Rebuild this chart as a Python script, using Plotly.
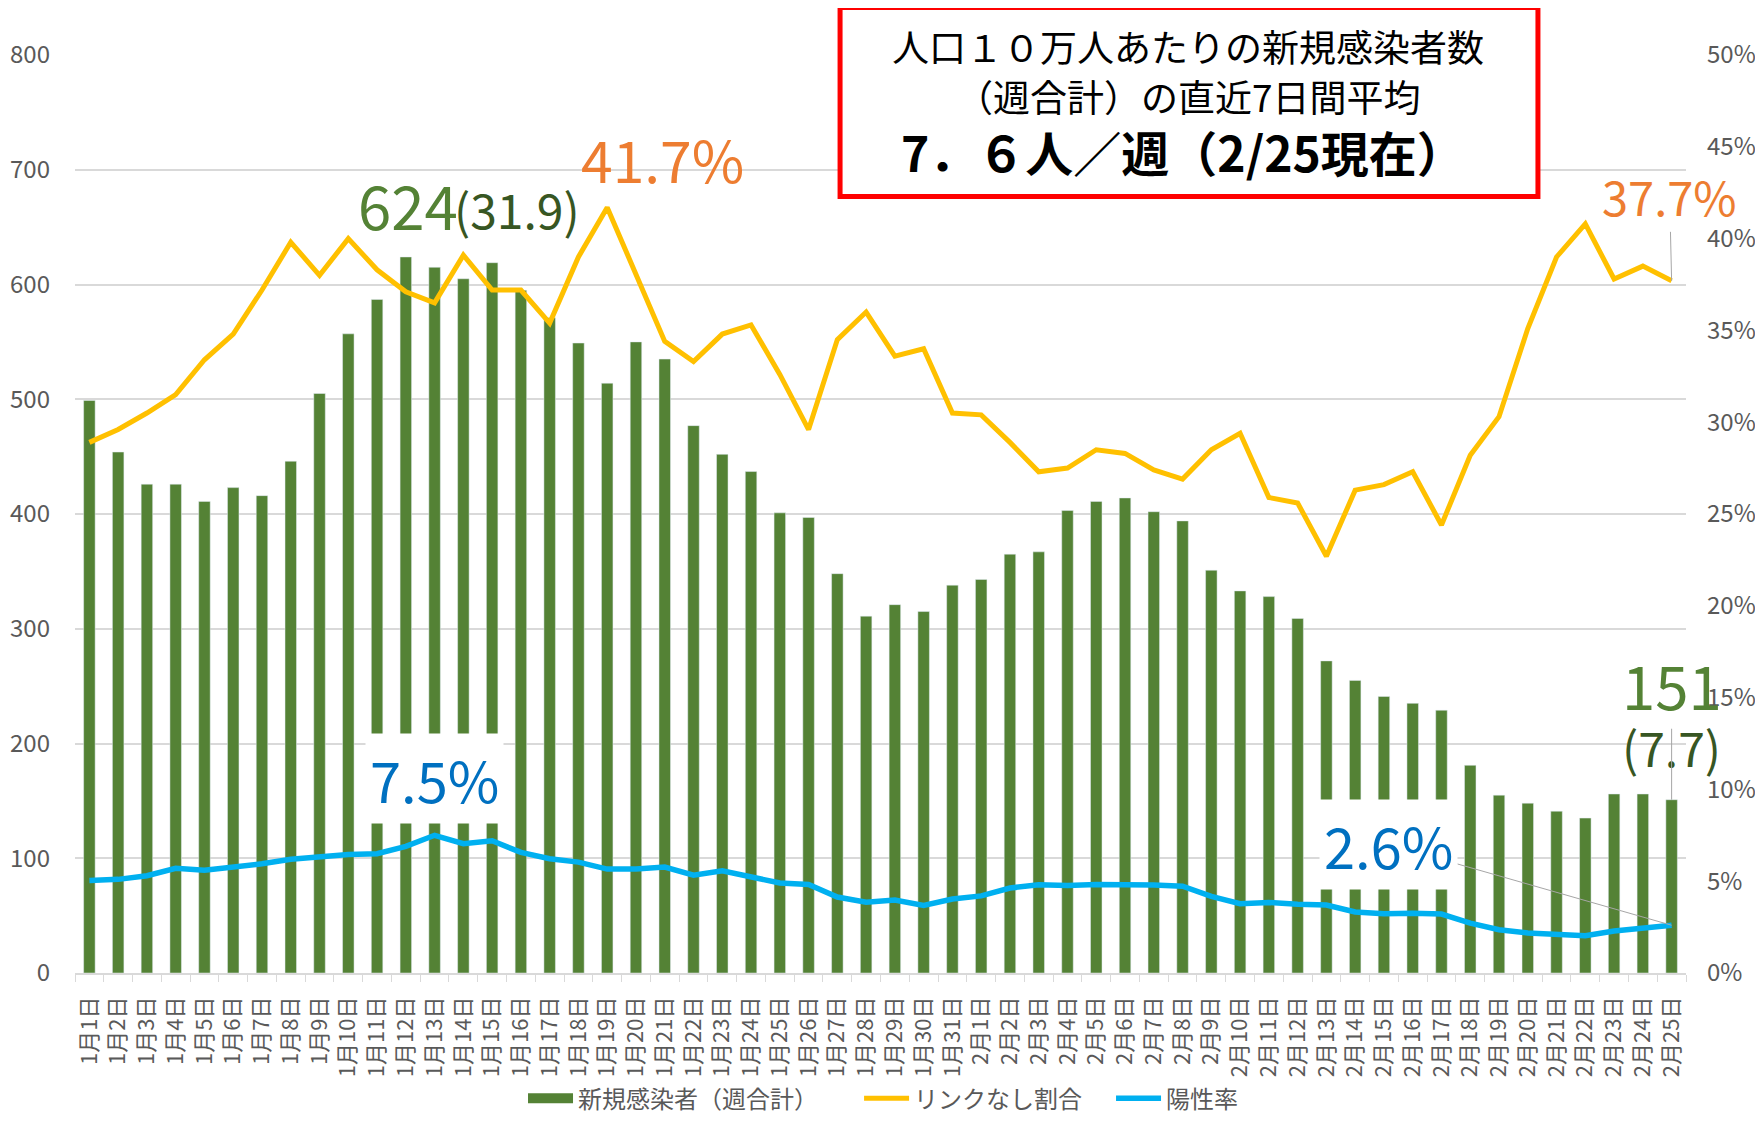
import plotly.graph_objects as go

# ---- data ----
days_jan = [f"1月{d}日" for d in range(1, 32)]
days_feb = [f"2月{d}日" for d in range(1, 26)]
categories = days_jan + days_feb

new_cases_weekly = [499, 454, 426, 426, 411, 423, 416, 446, 505, 557,
                    587, 624, 615, 605, 619, 595, 571, 549, 514, 550,
                    535, 477, 452, 437, 401, 397, 348, 311, 321, 315, 338,
                    343, 365, 367, 403, 411, 414, 402, 394, 351, 333,
                    328, 309, 272, 255, 241, 235, 229, 181, 155, 148,
                    141, 135, 156, 156, 151]

unlinked_pct = [28.9, 29.6, 30.5, 31.5, 33.4, 34.8, 37.2, 39.8, 38.0, 40.0,
                38.3, 37.1, 36.5, 39.1, 37.2, 37.2, 35.4, 39.0, 41.7, 38.0,
                34.4, 33.3, 34.8, 35.3, 32.6, 29.6, 34.5, 36.0, 33.6, 34.0, 30.5,
                30.4, 28.9, 27.3, 27.5, 28.5, 28.3, 27.4, 26.9, 28.5, 29.4,
                25.9, 25.6, 22.7, 26.3, 26.6, 27.3, 24.4, 28.2, 30.3, 35.1,
                39.0, 40.8, 37.8, 38.5, 37.7]

positive_pct = [5.04, 5.1, 5.3, 5.7, 5.6, 5.77, 5.95, 6.2, 6.33, 6.46,
                6.5, 6.9, 7.5, 7.04, 7.2, 6.57, 6.22, 6.04, 5.66, 5.66,
                5.77, 5.33, 5.57, 5.26, 4.9, 4.82, 4.14, 3.85, 3.97, 3.68, 4.03,
                4.2, 4.63, 4.8, 4.77, 4.82, 4.84, 4.79, 4.73, 4.17, 3.77,
                3.84, 3.75, 3.7, 3.32, 3.23, 3.25, 3.21, 2.72, 2.36, 2.18,
                2.1, 2.03, 2.29, 2.48, 2.6]

series_names = ["新規感染者（週合計）", "リンクなし割合", "陽性率"]
box_lines = ["人口１０万人あたりの新規感染者数",
             "（週合計）の直近7日間平均",
             "7．６人／週（2/25現在）"]

NUM_FONT = "Noto Sans CJK JP, sans-serif"
JP_FONT = "Noto Sans CJK JP, Noto Sans, sans-serif"
GRAY = "#595959"
GREEN = "#548235"
DKGREEN = "#375623"
ORANGE = "#ED7D31"
BLUE = "#0070C0"
YELLOW = "#FFC000"
CYAN = "#00B0F0"
LEADER = "#A6A6A6"

fig = go.Figure()
fig.add_trace(go.Bar(x=categories, y=new_cases_weekly, name=series_names[0],
                     marker_color=GREEN, yaxis="y", showlegend=False))
# legend swatch for the bar series (wide rectangle, as in the original legend)
fig.add_trace(go.Scatter(x=[None], y=[None], name=series_names[0], mode="lines",
                         line=dict(color=GREEN, width=12), legend="legend", hoverinfo="skip"))
fig.add_trace(go.Scatter(x=categories, y=unlinked_pct, name=series_names[1],
                         mode="lines", line=dict(color=YELLOW, width=5), yaxis="y2",
                         legend="legend2"))
fig.add_trace(go.Scatter(x=categories, y=positive_pct, name=series_names[2],
                         mode="lines", line=dict(color=CYAN, width=5.5), yaxis="y2",
                         legend="legend3"))

ann = []
# peak of new cases
ann.append(dict(x=categories[11], y=new_cases_weekly[11], xref="x", yref="y",
                text="624", showarrow=False, xanchor="left", yanchor="bottom",
                xshift=-50, yshift=8, font=dict(family=NUM_FONT, size=60, color=GREEN)))
ann.append(dict(x=categories[11], y=new_cases_weekly[11], xref="x", yref="y",
                text="(31.9)", showarrow=False, xanchor="left", yanchor="bottom",
                xshift=46, yshift=12, font=dict(family=NUM_FONT, size=48, color=DKGREEN)))
# peak of unlinked
ann.append(dict(x=categories[18], y=unlinked_pct[18], xref="x", yref="y2",
                text="41.7%", showarrow=False, xanchor="left", yanchor="bottom",
                xshift=-28, yshift=6, font=dict(family=NUM_FONT, size=57, color=ORANGE)))
# last unlinked
ann.append(dict(x=categories[-1], y=unlinked_pct[-1], xref="x", yref="y2",
                text="37.7%", showarrow=True, arrowhead=0, arrowwidth=1, arrowcolor=LEADER,
                ax=-2, ay=-85, font=dict(family=NUM_FONT, size=47, color=ORANGE)))
# last cases
ann.append(dict(x=categories[-1], y=new_cases_weekly[-1], xref="x", yref="y",
                text="(7.7)", showarrow=False, yshift=54,
                font=dict(family=NUM_FONT, size=48, color=DKGREEN)))
ann.append(dict(x=categories[-1], y=new_cases_weekly[-1], xref="x", yref="y",
                text="151", showarrow=True, arrowhead=0, arrowwidth=1, arrowcolor=LEADER,
                ax=0, ay=-116, font=dict(family=NUM_FONT, size=60, color=GREEN)))
# peak positive
ann.append(dict(x=categories[12], y=positive_pct[12], xref="x", yref="y2",
                text="7.5%", showarrow=False, yshift=57, bgcolor="white", borderpad=4,
                font=dict(family=NUM_FONT, size=56, color=BLUE)))
# last positive
ann.append(dict(x=categories[-1], y=positive_pct[-1], xref="x", yref="y2",
                text="2.6%", showarrow=True, arrowhead=0, arrowwidth=1, arrowcolor=LEADER,
                ax=-283, ay=-81, bgcolor="white", borderpad=4,
                font=dict(family=NUM_FONT, size=56, color=BLUE)))
# red box texts
ann.append(dict(x=0.691, y=1.010, xref="paper", yref="paper", text=box_lines[0],
                xanchor="center", yanchor="middle",
                showarrow=False, font=dict(family=JP_FONT, size=37, color="#000000")))
ann.append(dict(x=0.691, y=0.955, xref="paper", yref="paper", text=box_lines[1],
                xanchor="center", yanchor="middle",
                showarrow=False, font=dict(family=JP_FONT, size=37, color="#000000")))
ann.append(dict(x=0.688, y=0.895, xref="paper", yref="paper", text="<b>" + box_lines[2] + "</b>",
                xanchor="center", yanchor="middle",
                showarrow=False, font=dict(family=JP_FONT, size=48, color="#000000")))

legend_common = dict(orientation="h", y=-0.137, yanchor="middle", xanchor="left",
                     itemwidth=45, bgcolor="rgba(0,0,0,0)",
                     font=dict(family=JP_FONT, size=24, color=GRAY))

fig.update_layout(
    width=1747, height=1110,
    margin=dict(l=67, r=69, t=47, b=144.5, autoexpand=False),
    paper_bgcolor="white", plot_bgcolor="white",
    bargap=0.6,
    showlegend=True,
    legend=dict(x=0.2781, **legend_common),
    legend2=dict(x=0.4867, **legend_common),
    legend3=dict(x=0.6431, **legend_common),
    xaxis=dict(type="category", range=[-0.5, len(categories) - 0.5], tickangle=-90,
               showgrid=False, automargin=False,
               showline=True, linecolor="#D9D9D9", linewidth=1.5,
               ticks="outside", tickson="boundaries", ticklen=7, tickcolor="#D9D9D9",
               tickfont=dict(family=JP_FONT, size=22, color=GRAY), ticklabelstandoff=13),
    yaxis=dict(range=[0, 800], dtick=100, showgrid=True, gridcolor="#D9D9D9", gridwidth=1.5,
               zeroline=False, automargin=False,
               tickfont=dict(family=NUM_FONT, size=24, color=GRAY),
               ticklabelstandoff=24),
    yaxis2=dict(range=[0, 50], dtick=5, ticksuffix="%", overlaying="y", side="right",
                showgrid=False, zeroline=False, automargin=False,
                tickfont=dict(family=NUM_FONT, size=24, color=GRAY), ticklabelstandoff=20),
    shapes=[dict(type="rect", xref="paper", yref="paper", x0=0.4749, x1=0.9081,
                 y0=0.8459, y1=1.0517, line=dict(color="#FF0000", width=5),
                 fillcolor="white", layer="above")],
    annotations=ann,
)

fig.write_html("out.html")
